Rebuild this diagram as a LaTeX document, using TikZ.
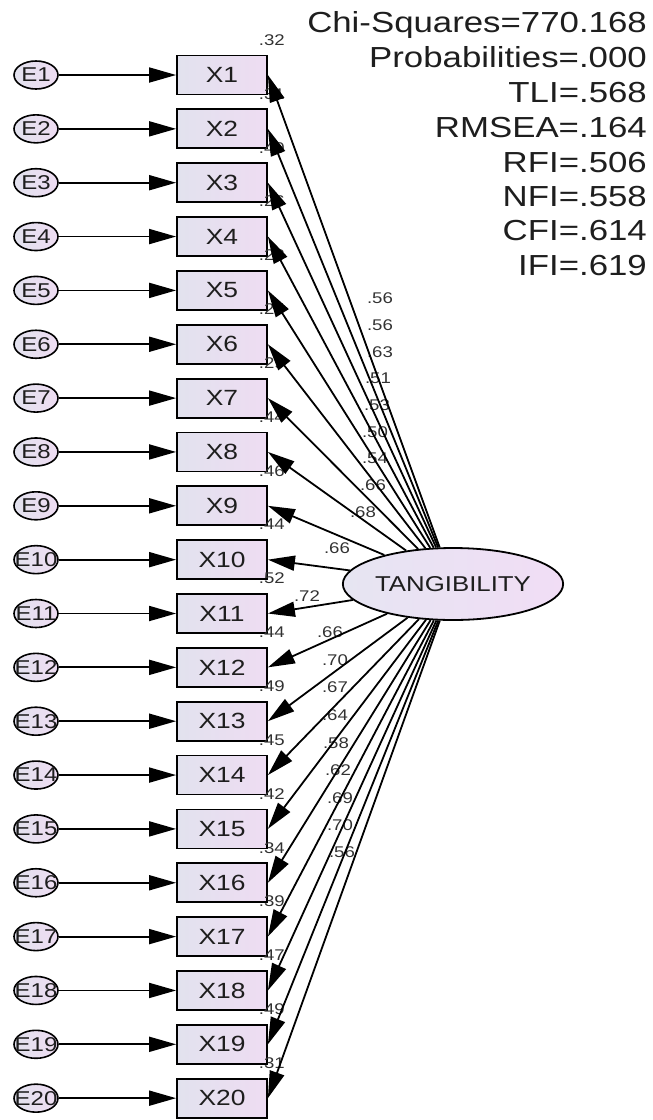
\documentclass[tikz,border=0pt]{standalone}
\usepackage{fontspec}
\setmainfont{Liberation Sans}[FakeStretch=1.2]
\usetikzlibrary{arrows.meta,shapes.geometric}
\definecolor{boxL}{RGB}{226,226,238}
\definecolor{boxR}{RGB}{238,220,242}
\definecolor{latL}{RGB}{230,229,242}
\definecolor{latR}{RGB}{241,221,245}
\definecolor{txt}{RGB}{30,30,30}
\definecolor{lbltxt}{RGB}{50,50,50}
\begin{document}
\begin{tikzpicture}[x=1pt,y=-1pt,
  obs/.style={draw, line width=1.8pt, left color=boxL, right color=boxR, minimum width=90pt, minimum height=39pt, inner sep=0pt, text=txt, font=\fontsize{22}{22}\selectfont},
  err/.style={draw, ellipse, line width=1.6pt, left color=boxL, right color=boxR, minimum width=44pt, minimum height=28pt, inner sep=0pt, text=txt, font=\fontsize{20}{20}\selectfont},
  lat/.style={draw, ellipse, line width=1.8pt, left color=latL, right color=latR, minimum width=183pt, minimum height=72pt, inner sep=0pt, text=txt, font=\fontsize{21.5}{21.5}\selectfont},
  reg/.style={line width=1.8pt, -{Triangle[length=27pt,width=15pt]}},
  lbl/.style={font=\fontsize{15.5}{15.5}\selectfont, text=lbltxt, inner sep=0pt},
  stat/.style={font=\fontsize{29}{29}\selectfont, text=txt, anchor=base east, inner sep=0pt}
]
\useasboundingbox (0,0) rectangle (653,1120);

% latent variable
\node[lat] (T) at (453,584) {TANGIBILITY};

% error terms and observed variables
\foreach \i in {1,...,20}{
  \pgfmathsetmacro{\yy}{75+(\i-1)*53.85}
  \node[err] (E\i) at (36,\yy) {\makebox[0pt]{E\i}};
  \node[obs] (X\i) at (222,\yy) {X\i};
}

% squared multiple correlations
\foreach \i/\r in {1/.32,2/.31,3/.40,4/.26,5/.28,6/.25,7/.29,8/.44,9/.46,10/.44,11/.52,12/.44,13/.49,14/.45,15/.42,16/.34,17/.39,18/.47,19/.49,20/.31}{
  \node[lbl] (r\i) at ([xshift=4pt,yshift=35pt]X\i.east) {\r};
}

% factor loadings
\foreach \i/\l/\lx/\ly in {1/.56/380/298,2/.56/380/325,3/.63/380/352,4/.51/378/378,5/.53/377/405,6/.50/375/432,7/.54/375/458,8/.66/373/485,9/.68/363/512,10/.66/337/548,11/.72/307/596,12/.66/330/632,13/.70/335/660,14/.67/335/687,15/.64/335/715,16/.58/336/743,17/.62/338/770,18/.69/340/798,19/.70/340/825,20/.56/342/852}{
  \node[lbl] (l\i) at (\lx,\ly) {\l};
}

% paths
\foreach \i in {1,...,20}{
  \draw[reg] (E\i) -- (X\i);
  \draw[reg] (T) -- (X\i.east);
}

% fit statistics
\node[stat] (s1) at (647,32) {Chi-Squares=770.168};
\node[stat] (s2) at (647,67) {Probabilities=.000};
\node[stat] (s3) at (647,102) {TLI=.568};
\node[stat] (s4) at (647,137) {RMSEA=.164};
\node[stat] (s5) at (647,172) {RFI=.506};
\node[stat] (s6) at (647,206) {NFI=.558};
\node[stat] (s7) at (647,240) {CFI=.614};
\node[stat] (s8) at (647,275) {IFI=.619};
\end{tikzpicture}
\end{document}
